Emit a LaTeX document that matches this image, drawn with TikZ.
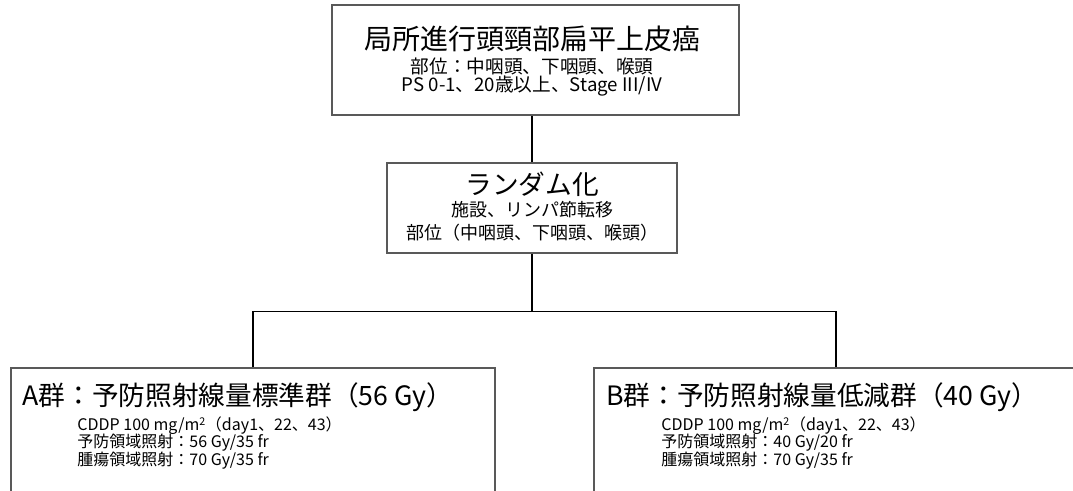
\documentclass[tikz,border=0pt]{standalone}
\usepackage{fontspec}
\setmainfont{Noto Sans CJK JP}
\definecolor{boxgray}{HTML}{595959}
\begin{document}
\begin{tikzpicture}[x=0.75pt,y=-0.75pt,
    box/.style={draw=boxgray, line width=1.2pt, inner sep=0pt},
    line/.style={inner sep=0pt, font=\fontsize{#1}{#1}\selectfont},
    link/.style={draw=black, line width=1pt}]
  \useasboundingbox (0,0) rectangle (1073,491);
  \clip (0,0) rectangle (1073,491);
  % boxes
  \node[box, minimum width=305.25pt, minimum height=82.5pt] (target) at (535.5,60) {};
  \node[box, minimum width=217.5pt, minimum height=67.5pt] (rand) at (532,208) {};
  \node[box, anchor=north, minimum width=363pt, minimum height=120pt] (armA) at (253,367) {};
  \node[box, anchor=north, minimum width=363pt, minimum height=120pt] (armB) at (836,367) {};
  % texts
  \node[line=21, xshift=-2.6pt, yshift=-26.25pt] (targetT) at (target.north) {局所進行頭頸部扁平上皮癌};
  \node[line=14, xshift=-2.6pt, yshift=-46.5pt] (targetS) at (target.north) {部位：中咽頭、下咽頭、喉頭};
  \node[line=14, xshift=-2.6pt, yshift=-61.5pt] (targetC) at (target.north) {PS 0-1、20歳以上、Stage III/IV};
  \node[line=20, yshift=-16.5pt] (randT) at (rand.north) {ランダム化};
  \node[line=13.5, yshift=-35.25pt] (randF) at (rand.north) {施設、リンパ節転移};
  \node[line=13.5, yshift=-52.5pt] (randS) at (rand.north) {部位（中咽頭、下咽頭、喉頭）};
  \node[line=20, anchor=west, xshift=9pt, yshift=-23pt] (nameA) at (armA.north west) {A群：予防照射線量標準群（56 Gy）};
  \node[line=12, anchor=west, xshift=50.25pt, yshift=-44.25pt] (drugA) at (armA.north west) {CDDP 100 mg/m\textsuperscript{2}（day1、22、43）};
  \node[line=12, anchor=west, xshift=50.25pt, yshift=-57pt] (elecA) at (armA.north west) {予防領域照射：56 Gy/35 fr};
  \node[line=12, anchor=west, xshift=50.25pt, yshift=-70.5pt] (gtvA) at (armA.north west) {腫瘍領域照射：70 Gy/35 fr};
  \node[line=20, anchor=west, xshift=9.75pt, yshift=-23pt] (nameB) at (armB.north west) {B群：予防照射線量低減群（40 Gy）};
  \node[line=12, anchor=west, xshift=51pt, yshift=-44.25pt] (drugB) at (armB.north west) {CDDP 100 mg/m\textsuperscript{2}（day1、22、43）};
  \node[line=12, anchor=west, xshift=51pt, yshift=-57pt] (elecB) at (armB.north west) {予防領域照射：40 Gy/20 fr};
  \node[line=12, anchor=west, xshift=51pt, yshift=-70.5pt] (gtvB) at (armB.north west) {腫瘍領域照射：70 Gy/35 fr};
  % links
  \draw[link] (rand.north) -- (rand.north |- target.south);
  \path (rand.south) ++(0,58) coordinate (fork);
  \draw[link] (rand.south) -- (fork);
  \draw[link] (armA.north) |- (fork) -| (armB.north);
\end{tikzpicture}
\end{document}
